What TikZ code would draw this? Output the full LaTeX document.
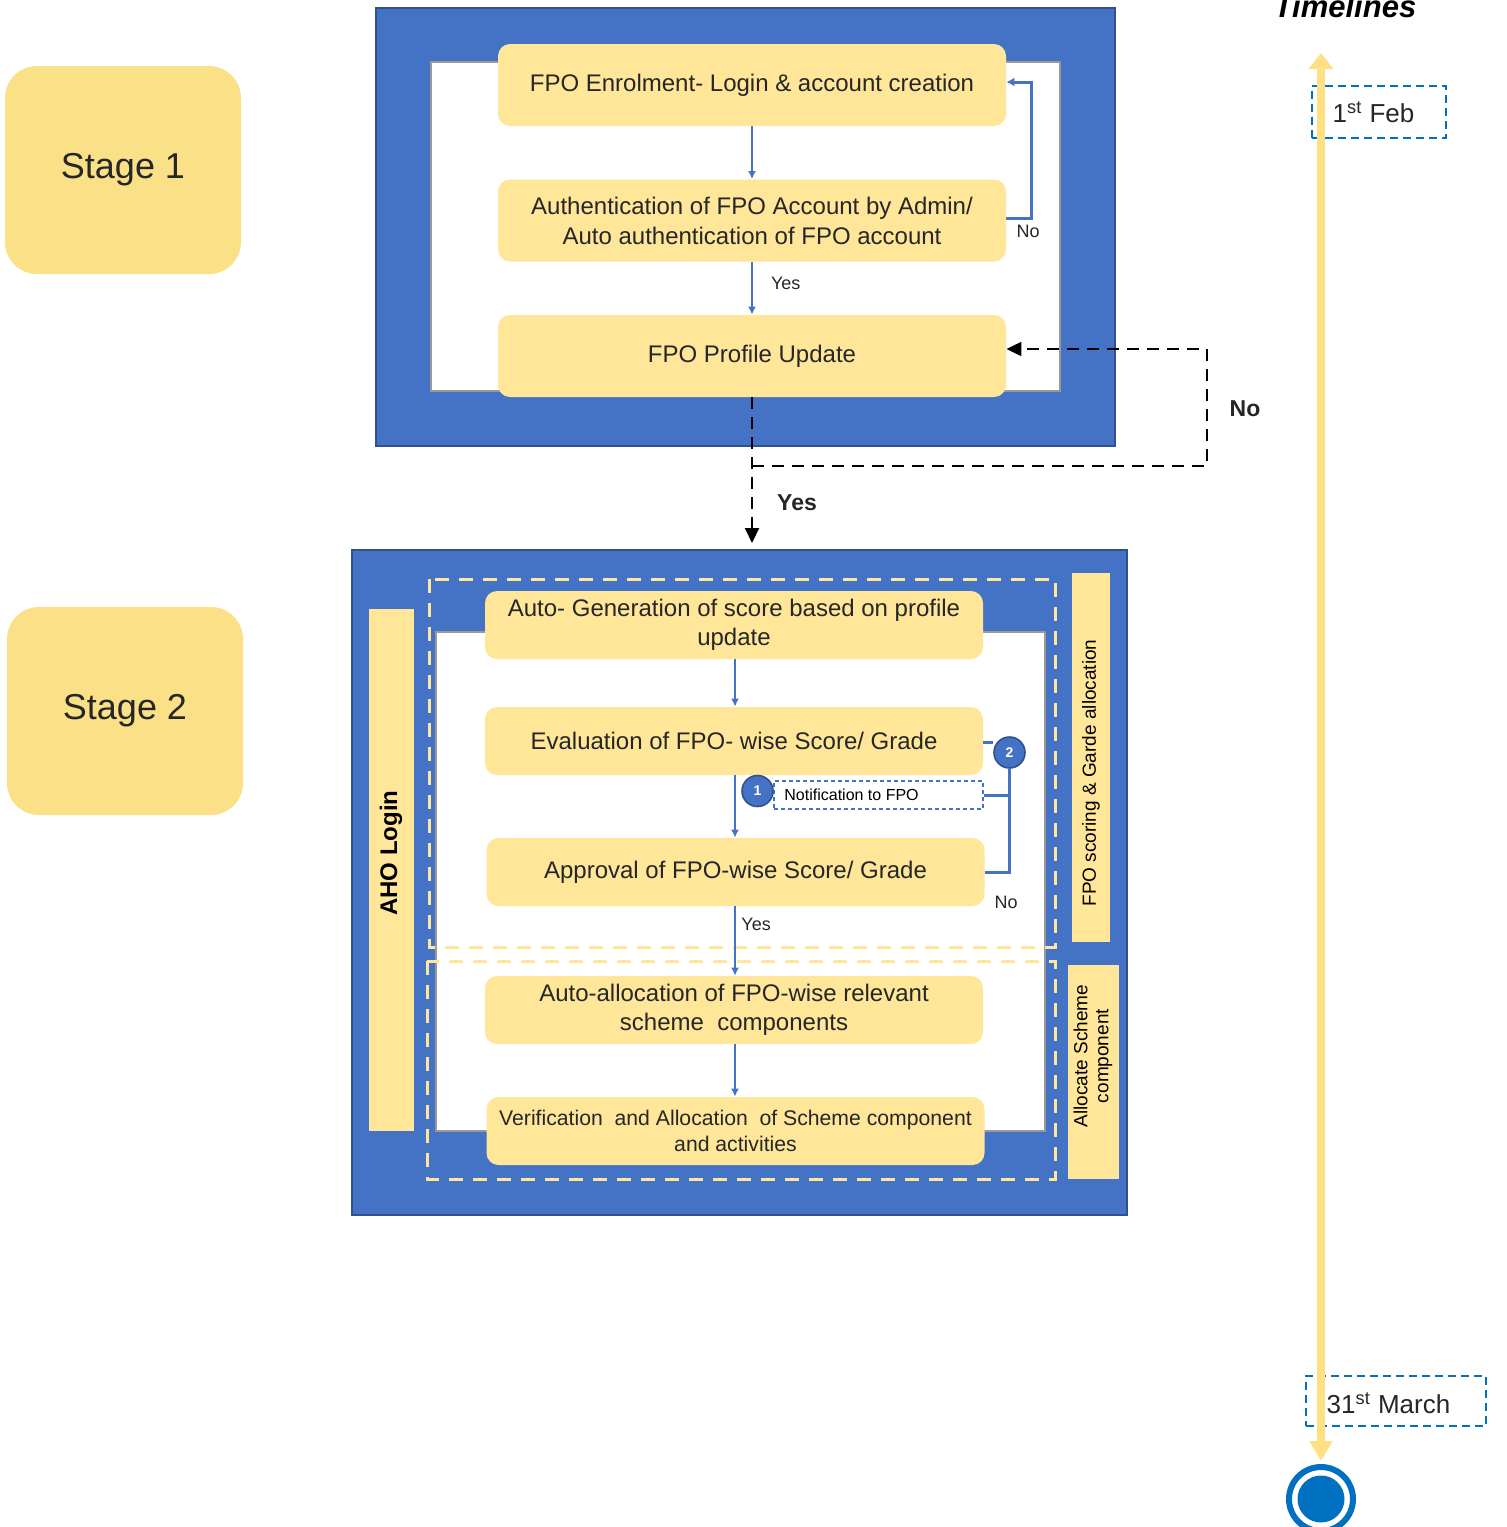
\documentclass[tikz,border=0pt]{standalone}
\usepackage{fontspec}
\setmainfont{Liberation Sans}
\usetikzlibrary{arrows.meta}
\definecolor{boxy}{HTML}{FFE699}
\definecolor{stagey}{HTML}{FAE087}
\definecolor{fblue}{HTML}{4472C4}
\definecolor{fborder}{HTML}{2F528F}
\definecolor{tlblue}{HTML}{0070C0}
\definecolor{tly}{HTML}{FFE083}
\definecolor{txt}{HTML}{262626}
\begin{document}
\begin{tikzpicture}[x=0.5pt,y=-0.5pt,
  ybox/.style={fill=boxy, rounded corners=6pt, minimum width=254pt, minimum height=41pt, inner sep=0pt, align=center, text=txt, font=\fontsize{12}{15}\selectfont},
  cbox/.style={fill=boxy, rounded corners=6pt, minimum width=249pt, minimum height=34pt, inner sep=0pt, align=center, text=txt, font=\fontsize{12}{14.5}\selectfont},
  stagebox/.style={fill=stagey, rounded corners=16pt, minimum width=118pt, minimum height=104pt, inner sep=0pt, text=txt, font=\fontsize{18}{20}\selectfont},
  frame/.style={fill=fblue, draw=fborder, line width=0.8pt, inner sep=0pt},
  whitebox/.style={fill=white, draw=gray!80, line width=0.6pt, inner sep=0pt},
  bar/.style={fill=boxy, inner sep=0pt},
  barr/.style={draw=fblue, line width=1pt, -{Latex[length=4pt,width=4pt]}},
  bloop/.style={draw=fblue, line width=1.5pt},
  dashblk/.style={draw=black, line width=1pt, dash pattern=on 6pt off 4pt},
  blktip/.style={-{Triangle[length=7.5pt,width=7pt]}},
  ydash/.style={draw=boxy, line width=1.5pt, dash pattern=on 7pt off 5pt},
  tlbox/.style={draw=tlblue, line width=1pt, dash pattern=on 4pt off 2.5pt, inner sep=0pt},
  num/.style={circle, fill=fblue, draw=fborder, line width=0.8pt, minimum size=15.5pt, inner sep=0pt, text=white, font=\bfseries\fontsize{7}{8}\selectfont},
  smlab/.style={text=txt, font=\fontsize{9}{10}\selectfont, inner sep=0pt},
  biglab/.style={text=txt, font=\bfseries\fontsize{11.5}{13}\selectfont, inner sep=0pt}
]
\useasboundingbox (0,0) rectangle (1506,1527);

% Stage boxes
\node[stagebox] (st1) at (123,170) {Stage 1};
\node[stagebox] (st2) at (125,711) {Stage 2};

% Frame 1
\node[frame, minimum width=369.5pt, minimum height=219pt] (f1) at (745.5,227) {};
\node[whitebox, minimum width=314.5pt, minimum height=164.5pt] (w1) at (745.5,226.5) {};
\node[ybox] (b1) at (752,85) {FPO Enrolment- Login \& account creation};
\node[ybox] (b2) at (752,220.5) {Authentication of FPO Account by Admin/\\Auto authentication of FPO account};
\node[ybox] (b3) at (752,356) {FPO Profile Update};

\draw[barr] (b1) -- (b2);
\draw[barr] (b2) -- node[smlab, right=9pt, pos=0.4] {Yes} (b3);
\draw[bloop, -{Latex[length=4pt,width=4.5pt]}] ([yshift=1.2pt]b2.east) -- ++(25,0) |- ([yshift=1.5pt]b1.east);
\node[smlab] (no1) at (1028,231) {No};

% Frame 2
\node[frame, minimum width=387.5pt, minimum height=332.5pt] (f2) at (739.5,882.5) {};
\node[whitebox, minimum width=304.5pt, minimum height=249.5pt] (w2) at (740.5,881.5) {};
\draw[ydash] (429,579) rectangle (1055,947);
\draw[ydash] (427,961) rectangle (1055,1179);

\node[bar, minimum width=22.5pt, minimum height=261pt] (aho) at (391.5,870) {};
\node[rotate=90, text=black, font=\bfseries\fontsize{12}{14}\selectfont] (ahot) at (391,853) {AHO Login};
\node[bar, minimum width=19pt, minimum height=184.5pt] (sbar) at (1091,757.5) {};
\node[rotate=90, text=black, font=\fontsize{9.5}{11}\selectfont] (sbart) at (1091,773) {FPO scoring \& Garde allocation};
\node[bar, minimum width=25.5pt, minimum height=107pt] (abar) at (1093.5,1072) {};
\node[rotate=90, text=black, align=center, font=\fontsize{9.5}{10.5}\selectfont] (abart) at (1093,1056) {Allocate Scheme\\component};

\node[cbox] (c1) at (734,625) {Auto- Generation of score based on profile\\update};
\node[cbox] (c2) at (734,741) {Evaluation of FPO- wise Score/ Grade};
\node[cbox] (c3) at (735.5,872) {Approval of FPO-wise Score/ Grade};
\node[cbox] (c4) at (734,1010) {Auto-allocation of FPO-wise relevant\\scheme\ \ components};
\node[cbox, font=\fontsize{10.6}{13}\selectfont] (c5) at (735.5,1131) {Verification\ \ and Allocation\ \ of Scheme component\\and activities};

\draw[barr] (c1.south -| 735,0) -- (c2.north -| 735,0);
\draw[barr] (c2.south -| 735,0) -- (c3.north -| 735,0);
\draw[barr] (c3.south -| 735,0) -- (c4.north -| 735,0);
\draw[barr] (c4.south -| 735,0) -- (c5.north -| 735,0);
\node[smlab, anchor=west] (yes2) at (741,924) {Yes};

\node[draw=fblue, line width=0.6pt, dash pattern=on 2pt off 1.5pt, minimum width=104.5pt, minimum height=14pt, inner sep=0pt] (notif) at (878.5,795) {};
\node[text=black, font=\fontsize{8}{9}\selectfont, anchor=west, inner sep=0pt] (notift) at (784,795) {Notification to FPO};
\node[num] (n1) at (757.5,791) {1};
\node[num] (n2) at (1009.5,752.5) {2};
\draw[bloop] (c2.east |- 0,742) -- (n2.west |- 0,742);
\draw[bloop] (n2.south) -- (n2.south |- c3.east) -- (c3.east);
\draw[bloop] (notif.east) -- (n2.south |- notif.east);
\node[smlab] (no2) at (1006,902) {No};

% Black dashed connectors
\coordinate (ytip) at (752,543);
\coordinate (jn) at (752,466);
\coordinate (loopc) at (1207,349);
\draw[dashblk, blktip] (b3.south) -- (ytip);
\draw[dashblk, blktip] (jn) -| (loopc) -- (b3.east |- loopc);
\node[biglab] (no3) at (1245,409) {No};
\node[biglab] (yes3) at (797,503) {Yes};

% Timeline
\node[anchor=base, text=black, font=\bfseries\itshape\fontsize{15.5}{18}\selectfont] (tlt) at (1345,17) {Timelines};
\node[tlbox, minimum width=67pt, minimum height=26pt] (feb) at (1379,111.5) {};
\node[text=txt, font=\fontsize{13}{15}\selectfont, inner sep=0pt] (febt) at (1373.5,112) {1\textsuperscript{st} Feb};
\node[tlbox, minimum width=90pt, minimum height=25pt] (mar) at (1396,1401) {};
\node[text=txt, font=\fontsize{13}{15}\selectfont, inner sep=0pt] (mart) at (1388.5,1403) {31\textsuperscript{st} March};

\coordinate (tltop) at (1321,53);
\node[circle, draw=tlblue, line width=3pt, fill=white, minimum size=32pt, inner sep=0pt] (endc) at (1321,1499) {};
\node[circle, fill=tlblue, minimum size=23.5pt, inner sep=0pt] (endin) at (endc) {};
\draw[draw=tly, line width=3.8pt, {Triangle[length=8pt,width=12pt]}-{Triangle[length=10pt,width=11pt]}, shorten >=1.5pt] (tltop) -- (endc.north);
\end{tikzpicture}
\end{document}
